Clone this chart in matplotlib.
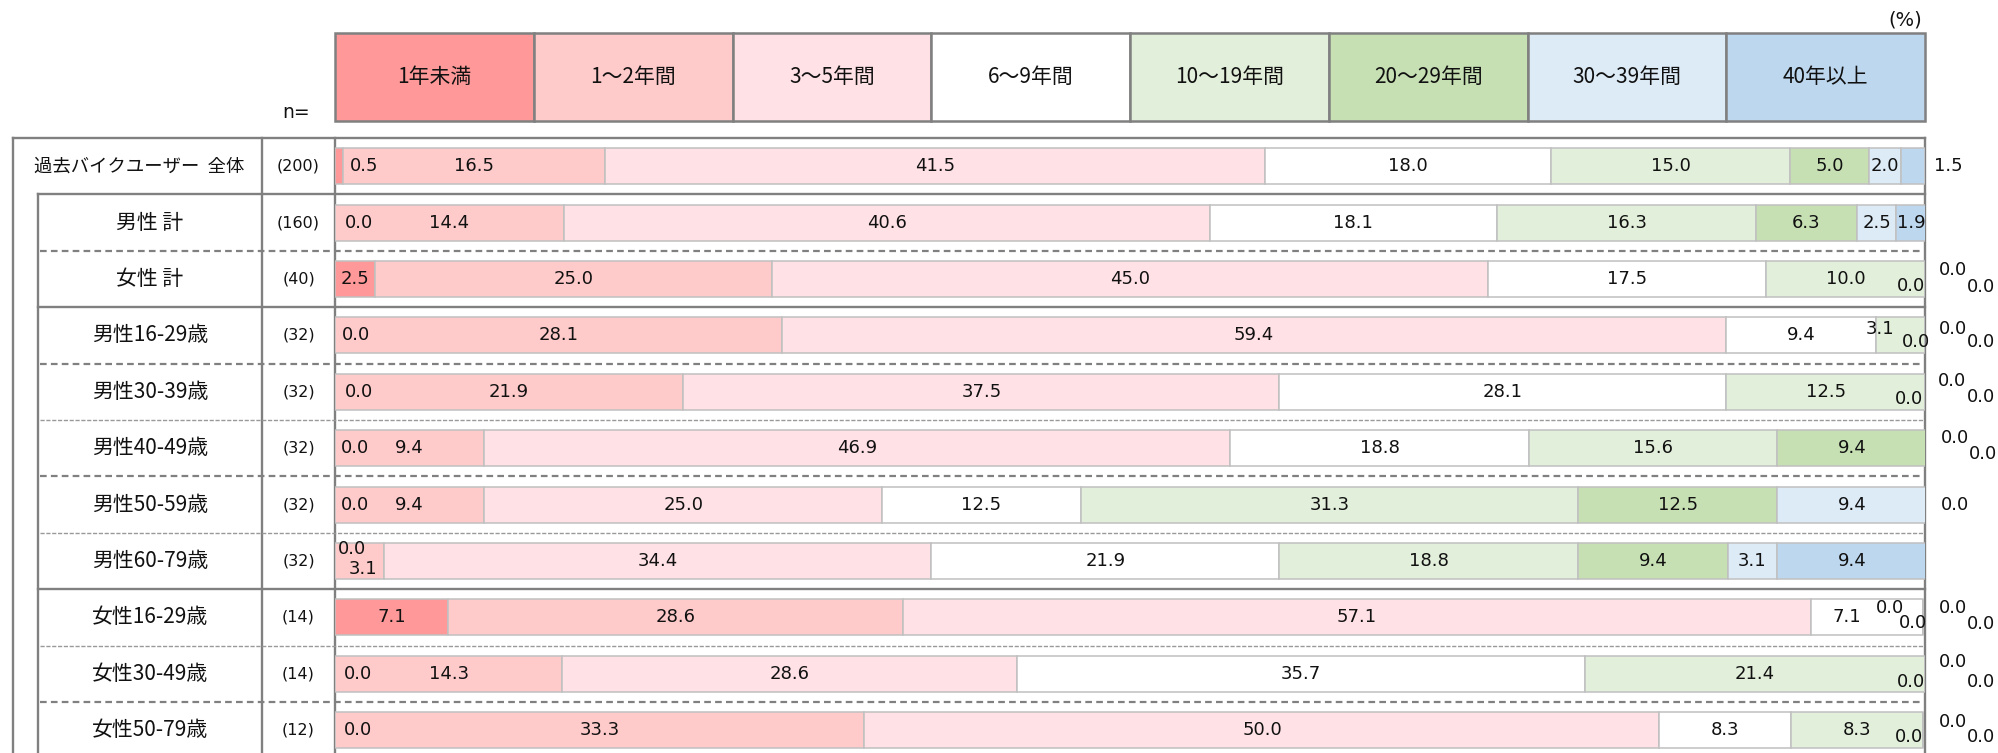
import numpy as np
import matplotlib
matplotlib.use("Agg")
import matplotlib.pyplot as plt
from matplotlib.transforms import blended_transform_factory

plt.rcParams['font.family'] = ['Noto Sans CJK JP', 'DejaVu Sans']

# ---------------- data ----------------
categories = ["1年未満", "1～2年間", "3～5年間", "6～9年間",
              "10～19年間", "20～29年間", "30～39年間", "40年以上"]
row_labels = ["過去バイクユーザー  全体", "男性 計", "女性 計",
              "男性16-29歳", "男性30-39歳", "男性40-49歳", "男性50-59歳", "男性60-79歳",
              "女性16-29歳", "女性30-49歳", "女性50-79歳"]
n_values = [200, 160, 40, 32, 32, 32, 32, 32, 14, 14, 12]
under1 = [0.5, 0.0, 2.5, 0.0, 0.0, 0.0, 0.0, 0.0, 7.1, 0.0, 0.0]
y1_2 = [16.5, 14.4, 25.0, 28.1, 21.9, 9.4, 9.4, 3.1, 28.6, 14.3, 33.3]
y3_5 = [41.5, 40.6, 45.0, 59.4, 37.5, 46.9, 25.0, 34.4, 57.1, 28.6, 50.0]
y6_9 = [18.0, 18.1, 17.5, 9.4, 28.1, 18.8, 12.5, 21.9, 7.1, 35.7, 8.3]
y10_19 = [15.0, 16.3, 10.0, 3.1, 12.5, 15.6, 31.3, 18.8, 0.0, 21.4, 8.3]
y20_29 = [5.0, 6.3, 0.0, 0.0, 0.0, 9.4, 12.5, 9.4, 0.0, 0.0, 0.0]
y30_39 = [2.0, 2.5, 0.0, 0.0, 0.0, 0.0, 9.4, 3.1, 0.0, 0.0, 0.0]
over40 = [1.5, 1.9, 0.0, 0.0, 0.0, 0.0, 0.0, 9.4, 0.0, 0.0, 0.0]
series = [under1, y1_2, y3_5, y6_9, y10_19, y20_29, y30_39, over40]

colors = ["#FF9999", "#FFCACA", "#FFE1E6", "#FFFFFF",
          "#E2EFDA", "#C6E0B4", "#DDEBF7", "#BDD7EE"]

# label nudges (pixels; dx right, dy down) for small / zero segments
nudges = {
    (0, 0): (25, 0), (0, 7): (35, 0),
    (1, 0): (24, 0),
    (2, 5): (-14, 7), (2, 6): (28, -9), (2, 7): (56, 8),
    (3, 0): (21, 0), (3, 4): (-20, -6), (3, 5): (-9, 7), (3, 6): (28, -6), (3, 7): (56, 7),
    (4, 0): (24, 0), (4, 5): (-16, 7), (4, 6): (27, -11), (4, 7): (56, 5),
    (5, 0): (20, 0), (5, 6): (28, -10), (5, 7): (56, 6),
    (6, 0): (20, 0), (6, 7): (28, 0),
    (7, 0): (17, -12), (7, 1): (3, 8),
    (8, 3): (-20, 0), (8, 4): (-33, -9), (8, 5): (-10, 6), (8, 6): (30, -9), (8, 7): (58, 7),
    (9, 0): (23, 0), (9, 5): (-14, 8), (9, 6): (28, -12), (9, 7): (56, 8),
    (10, 0): (23, 0), (10, 5): (-14, 7), (10, 6): (30, -8), (10, 7): (58, 7),
}

# ---------------- layout (pixels) ----------------
W, H = 1998, 753
bar_l, bar_r = 335, 1925
tab_top = 138
row_h = 56.4
hdr_top, hdr_bot = 33, 121
x_outer, x_inner, x_div1 = 13, 38, 262
GRAY = "#808080"

fig = plt.figure(figsize=(W / 100, H / 100), dpi=100)
ax0 = fig.add_axes([0, 0, 1, 1])
ax0.set_xlim(0, W)
ax0.set_ylim(H, 0)
ax0.axis("off")

ax = fig.add_axes([bar_l / W, 0, (bar_r - bar_l) / W, (H - tab_top) / H])
ax.set_xlim(0, 100)
ax.set_ylim(-0.5 + (H - tab_top) / row_h, -0.5)
ax.axis("off")

nrows = len(row_labels)
ypos = np.arange(nrows)
data = np.array(series).T  # rows x cats
cum = np.zeros(nrows)
for j, cat in enumerate(categories):
    ax.barh(ypos, data[:, j], left=cum, height=0.64, color=colors[j],
            edgecolor="#C0C0C0", linewidth=1.1)
    cum = cum + data[:, j]

# value labels
starts = np.cumsum(data, axis=1) - data
for i in range(nrows):
    for j in range(len(categories)):
        v = data[i, j]
        xc = starts[i, j] + v / 2
        dx, dy = nudges.get((i, j), (0, 0))
        ax.annotate(f"{v:.1f}", xy=(xc, i), xytext=(dx, -dy),
                    textcoords="offset pixels", ha="center", va="center",
                    fontsize=13, family=["DejaVu Sans"],
                    color="#111111", annotation_clip=False)

# header (legend row)
hx = fig.add_axes([bar_l / W, (H - hdr_bot) / H, (bar_r - bar_l) / W, (hdr_bot - hdr_top) / H])
hx.set_xlim(0, 100)
hx.set_ylim(-0.5, 0.5)
hx.axis("off")
cw = 100 / len(categories)
hbars = hx.barh([0] * len(categories), [cw] * len(categories),
                left=[k * cw for k in range(len(categories))], height=1.0,
                color=colors, edgecolor=GRAY, linewidth=1.8)
for b in hbars:
    b.set_clip_on(False)
for k, cat in enumerate(categories):
    hx.text(k * cw + cw / 2, 0, cat, ha="center", va="center", fontsize=15, color="#111111")

ax0.text(1922, 20, "(%)", ha="right", va="center", fontsize=14,
         family=["DejaVu Sans"], color="#111111")
ax0.text(296, 112, "n=", ha="center", va="center", fontsize=13.5,
         family=["DejaVu Sans"], color="#111111")

# table lines
lw_s = 1.7
ax0.plot([x_outer, bar_r], [tab_top, tab_top], color=GRAY, lw=lw_s)
for x in (x_outer, x_div1, bar_l, bar_r):
    ax0.plot([x, x], [tab_top, H], color=GRAY, lw=lw_s)
ax0.plot([x_inner, x_inner], [tab_top + row_h, H], color=GRAY, lw=lw_s)

styles = {1: "solid", 2: "dash", 3: "solid", 4: "dash", 5: "fine", 6: "dash",
          7: "fine", 8: "solid", 9: "fine", 10: "dash"}
for k, st in styles.items():
    yb = tab_top + row_h * k
    if st == "solid":
        ax0.plot([x_inner, bar_r], [yb, yb], color=GRAY, lw=lw_s)
    elif st == "dash":
        ln, = ax0.plot([x_inner + 2, bar_r - 4], [yb, yb], color=GRAY, lw=1.6)
        ln.set_dashes((3.0, 1.9))
    else:
        ln, = ax0.plot([x_inner + 2, bar_r - 2], [yb, yb], color="#999999", lw=1.0)
        ln.set_dashes((3.0, 1.2))

# row labels and n
tr = blended_transform_factory(ax0.transData, ax.transData)
for i, lab in enumerate(row_labels):
    if i == 0:
        ax0.text(34, i, lab, transform=tr, ha="left", va="center",
                 fontsize=13.2, color="#111111")
    else:
        ax0.text((x_inner + x_div1) / 2, i, lab, transform=tr, ha="center",
                 va="center", fontsize=15, color="#111111")
    ax0.text((x_div1 + bar_l) / 2, i, f"({n_values[i]})", transform=tr,
             ha="center", va="center", fontsize=11.5,
             family=["DejaVu Sans"], color="#111111")

fig.savefig("out.png", dpi=100)
